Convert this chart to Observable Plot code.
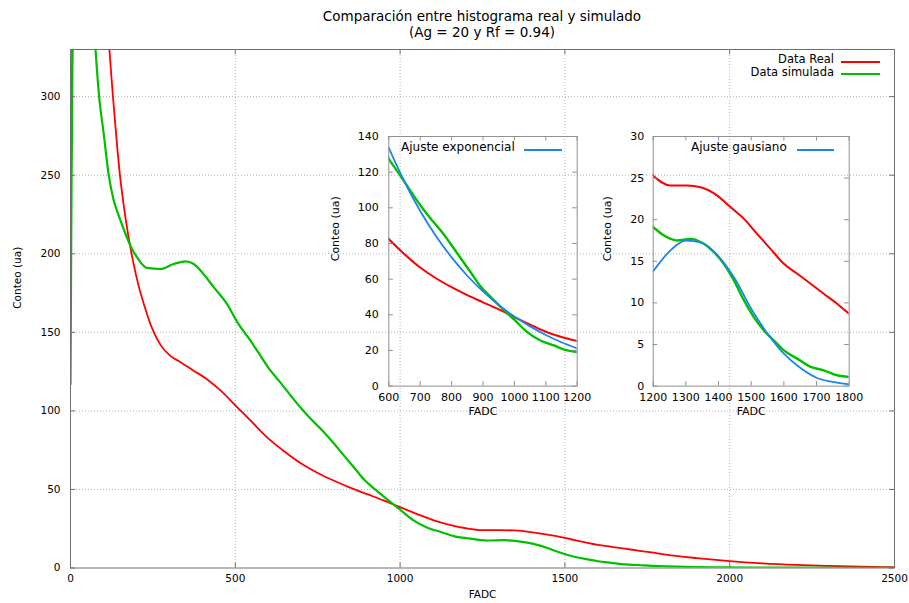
<!DOCTYPE html>
<html>
<head>
<meta charset="utf-8">
<script src="https://cdn.jsdelivr.net/npm/d3@7"></script>
<script src="https://cdn.jsdelivr.net/npm/@observablehq/plot@0.6"></script>
<style>
  html, body { margin: 0; padding: 0; background: #fff; }
  #wrap { position: relative; width: 909px; height: 603px; overflow: hidden; font-family: "DejaVu Sans", sans-serif; color: #000; }
  #wrap > * { position: absolute; }
  .t { white-space: nowrap; line-height: 1.164; }
  .sw { height: 2px; }
</style>
</head>
<body>
<div id="wrap"></div>
<script>
// ---------- data ----------
const realFADC = [0, 4, 10, 25, 118, 128, 140, 150, 162, 175, 190, 205, 224, 243, 253, 273, 303, 334, 374, 415, 455, 506, 550, 600, 650, 700, 750, 800, 850, 900, 950, 1000, 1050, 1100, 1150, 1200, 1253, 1304, 1345, 1396, 1437, 1478, 1518, 1559, 1600, 1641, 1682, 1722, 1763, 1800, 1900, 2000, 2100, 2200, 2300, 2400, 2500];
const realConteo = [215, 300, 420, 620, 330, 302, 272, 250, 230, 212, 195, 181, 167, 155, 150, 142, 135, 131, 125.6, 120, 113, 102.3, 93, 82.5, 74, 66.5, 60.5, 55.5, 51, 47, 43, 38.7, 34.5, 30.5, 27.5, 25.3, 24.1, 24.1, 23.9, 22.9, 21.5, 20.1, 18.3, 16.5, 14.7, 13.5, 12.3, 11.1, 9.9, 8.7, 6.3, 4.4, 3.0, 2.0, 1.3, 0.8, 0.5];

const simFADC = [0, 3, 8, 15, 76, 86, 101, 116, 131, 145, 157, 170, 182, 202, 232, 273, 313, 349, 374, 404, 435, 475, 506, 546, 576, 600, 637, 669, 701, 733, 764, 796, 828, 860, 892, 924, 956, 998, 1041, 1083, 1126, 1168, 1200, 1233, 1273, 1314, 1355, 1386, 1416, 1447, 1478, 1508, 1539, 1569, 1600, 1641, 1682, 1722, 1763, 1800, 1900, 2000, 2200, 2500];
const simConteo = [117, 240, 380, 700, 330, 302, 276, 250, 234, 225, 218, 211, 205, 197.7, 191, 190.3, 193.5, 195.2, 193.5, 187, 178.6, 168, 156.5, 144.7, 135.2, 127.5, 118, 109.5, 101.3, 94, 87.5, 80, 72, 64, 56, 50, 44.5, 37.5, 30.3, 25.6, 22.8, 20, 19.1, 18.1, 17.5, 17.7, 17.1, 16.1, 14.7, 12.7, 10.3, 8.3, 6.7, 5.5, 4.3, 3.3, 2.3, 1.9, 1.3, 1.1, 0.6, 0.4, 0.2, 0.1];

const expFADC = [600, 650, 700, 750, 800, 850, 900, 950, 1000, 1050, 1100, 1150, 1200];
const expConteo = [133.6, 114.6, 98.2, 84.2, 72.2, 61.9, 53.1, 45.5, 39.0, 33.5, 28.7, 24.6, 21.1];

const gausFADC = [1200, 1250, 1300, 1350, 1400, 1450, 1500, 1550, 1600, 1650, 1700, 1750, 1800];
const gausConteo = [13.8, 16.2, 17.5, 17.2, 15.6, 12.9, 9.3, 6.3, 3.9, 2.2, 1.0, 0.5, 0.2];

const mainXTicks = [0, 500, 1000, 1500, 2000, 2500];
const mainYTicks = [0, 50, 100, 150, 200, 250, 300];
const inset1XTicks = [600, 700, 800, 900, 1000, 1100, 1200];
const inset1YTicks = [0, 20, 40, 60, 80, 100, 120, 140];
const inset2XTicks = [1200, 1300, 1400, 1500, 1600, 1700, 1800];
const inset2YTicks = [0, 5, 10, 15, 20, 25, 30];

const titleLines = ["Comparación entre histograma real y simulado", "(Ag = 20 y Rf = 0.94)"];
const legendLabels = ["Data Real", "Data simulada"];
const fitLabels = ["Ajuste exponencial", "Ajuste gausiano"];

// ---------- styles ----------
const RED = "#ff0000", GREEN = "#00c000", BLUE = "#1a86e8";
const pairs = (xs, ys) => xs.map((x, i) => ({x, y: ys[i]}));
const real = pairs(realFADC, realConteo);
const sim = pairs(simFADC, simConteo);
const expFit = pairs(expFADC, expConteo);
const gausFit = pairs(gausFADC, gausConteo);
const fmt = d => String(d);

function inwardTicks(xt, yt, fw, fh, len, stroke) {
  return [
    Plot.ruleX(xt, {x: d => d, insetTop: fh - len, stroke}),
    Plot.ruleX(xt, {x: d => d, insetBottom: fh - len, stroke}),
    Plot.ruleY(yt, {y: d => d, insetRight: fw - len, stroke}),
    Plot.ruleY(yt, {y: d => d, insetLeft: fw - len, stroke})
  ];
}

const wrap = document.getElementById("wrap");

// ---------- main chart ----------
const M = {w: 909, h: 603, l: 70, r: 15, t: 49, b: 35.5};
const mfw = M.w - M.l - M.r, mfh = M.h - M.t - M.b;
const main = Plot.plot({
  width: M.w, height: M.h,
  marginLeft: M.l, marginRight: M.r, marginTop: M.t, marginBottom: M.b,
  style: {fontFamily: "DejaVu Sans", fontSize: "10.5px", background: "transparent", color: "#000", overflow: "visible"},
  x: {domain: [0, 2500], ticks: mainXTicks, tickFormat: fmt, tickSize: 0, tickPadding: 7, label: null},
  y: {domain: [0, 330], ticks: mainYTicks, tickFormat: fmt, tickSize: 0, tickPadding: 10, label: null},
  marks: [
    Plot.ruleX(mainXTicks.slice(1, -1), {x: d => d, stroke: "#b4b4b4", strokeDasharray: "1,2"}),
    Plot.ruleY(mainYTicks.slice(1), {y: d => d, stroke: "#b4b4b4", strokeDasharray: "1,2"}),
    Plot.line(real, {x: "x", y: "y", stroke: RED, strokeWidth: 1.8, curve: "monotone-x", clip: true}),
    Plot.line(sim, {x: "x", y: "y", stroke: GREEN, strokeWidth: 2.2, curve: "monotone-x", clip: true}),
    Plot.frame({stroke: "#707070"}),
    ...inwardTicks(mainXTicks, mainYTicks, mfw, mfh, 5, "#707070"),
    Plot.text(["FADC"], {text: d => d, frameAnchor: "bottom", dy: 29.5, fontSize: 10.5}),
    Plot.text(["Conteo (ua)"], {text: d => d, frameAnchor: "left", dx: -53, rotate: -90, fontSize: 10.5})
  ]
});
main.style.left = "0px"; main.style.top = "0px";
wrap.appendChild(main);

// ---------- insets ----------
function inset(opts) {
  const fw = opts.w - opts.l - opts.r, fh = opts.h - opts.t - opts.b;
  const svg = Plot.plot({
    width: opts.w, height: opts.h,
    marginLeft: opts.l, marginRight: opts.r, marginTop: opts.t, marginBottom: opts.b,
    style: {fontFamily: "DejaVu Sans", fontSize: "11px", background: "transparent", color: "#000", overflow: "visible"},
    x: {domain: opts.xd, ticks: opts.xt, tickFormat: fmt, tickSize: 0, tickPadding: 7, label: null},
    y: {domain: opts.yd, ticks: opts.yt, tickFormat: fmt, tickSize: 0, tickPadding: opts.yPad, label: null},
    marks: [
      Plot.line(real, {x: "x", y: "y", stroke: RED, strokeWidth: 2, curve: "monotone-x", clip: true}),
      Plot.line(sim, {x: "x", y: "y", stroke: GREEN, strokeWidth: 2.4, curve: "monotone-x", clip: true}),
      Plot.line(opts.fit, {x: "x", y: "y", stroke: BLUE, strokeWidth: 1.8, curve: "monotone-x", clip: true}),
      Plot.frame({stroke: "#909090"}),
      ...inwardTicks(opts.xt, opts.yt, fw, fh, 4.5, "#909090"),
      Plot.text(["FADC"], {text: d => d, frameAnchor: "bottom", dy: 28.4, fontSize: 11}),
      Plot.text(["Conteo (ua)"], {text: d => d, frameAnchor: "left", dx: opts.labDx, rotate: -90, fontSize: 11})
    ]
  });
  svg.style.left = opts.x + "px"; svg.style.top = opts.y + "px";
  wrap.appendChild(svg);
}
inset({x: 318, y: 126, w: 270, h: 300, l: 70.3, r: 11.3, t: 10, b: 40.4,
  xd: [600, 1200], yd: [0, 140], xt: inset1XTicks, yt: inset1YTicks, fit: expFit, yPad: 10, labDx: -53});
inset({x: 582, y: 126, w: 278, h: 300, l: 70.7, r: 11.3, t: 10, b: 40.4,
  xd: [1200, 1800], yd: [0, 30], xt: inset2XTicks, yt: inset2YTicks, fit: gausFit, yPad: 9, labDx: -46});

// ---------- title & legends (HTML) ----------
function addText(txt, css) {
  const d = document.createElement("div");
  d.className = "t"; d.textContent = txt; d.style.cssText += css;
  wrap.appendChild(d); return d;
}
function addSwatch(left, top, width, color) {
  const d = document.createElement("div");
  d.className = "sw";
  d.style.cssText += `left:${left}px;top:${top}px;width:${width}px;background:${color};`;
  wrap.appendChild(d);
}
addText(titleLines[0], "left:0;width:964px;text-align:center;top:9.2px;font-size:13.5px;");
addText(titleLines[1], "left:0;width:964px;text-align:center;top:25px;font-size:13.5px;");
addText(legendLabels[0], "right:75px;top:53.3px;font-size:11.5px;text-align:right;");
addText(legendLabels[1], "right:75px;top:66px;font-size:11.5px;text-align:right;");
addSwatch(841, 60.5, 39, RED);
addSwatch(841, 72.7, 39, GREEN);
addText(fitLabels[0], "left:401px;top:140.6px;font-size:12px;");
addSwatch(524, 148.8, 38, BLUE);
addText(fitLabels[1], "left:691px;top:140.6px;font-size:12px;");
addSwatch(797, 148.8, 37, BLUE);
</script>
</body>
</html>
